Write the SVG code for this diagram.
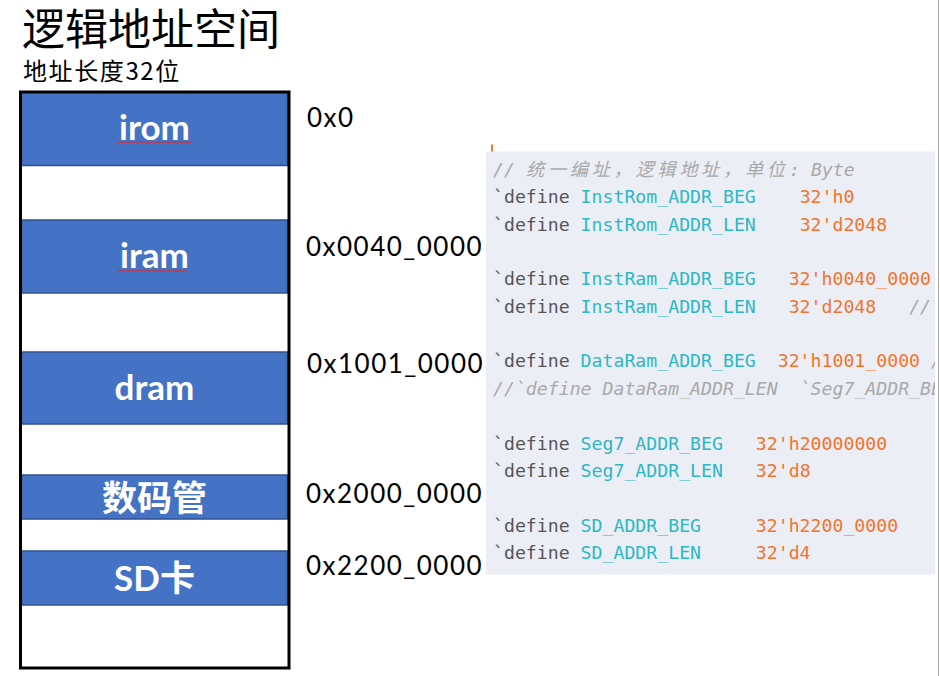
<svg xmlns="http://www.w3.org/2000/svg" width="940" height="676" viewBox="0 0 940 676">
<style>
.title{font-family:"Noto Sans CJK SC",sans-serif;fill:#000}
.band{fill:#4472C4;stroke:#2F528F;stroke-width:1.5}
.lbl{font-family:Lato,"Noto Sans CJK SC",sans-serif;font-weight:bold;fill:#fff;text-anchor:middle;font-size:35px}
.cjk{font-family:"Noto Sans CJK SC",sans-serif;font-weight:bold;font-size:35px}
.addr{font-family:Lato,"Liberation Sans",sans-serif;font-size:26px;fill:#000;letter-spacing:1.5px}
.code{font-family:"DejaVu Sans Mono","Noto Sans CJK SC",monospace;font-size:18.2px;fill:#555;white-space:pre}
.id{fill:#2DB8C5}
.num{fill:#F5732A}
.cm{fill:#A9A9A9;font-style:italic}
.wavy{fill:none;stroke:#E02828;stroke-width:1}
</style>
<defs>
<clipPath id="codeclip"><rect x="486" y="151" width="449" height="424"/></clipPath>
</defs>
<rect width="940" height="676" fill="#fff"/>
<g id="heading">
<text class="title" x="22" y="45" font-size="43">逻辑地址空间</text>
<text class="title" x="23" y="80" font-size="24" letter-spacing="1.6">地址长度32位</text>
</g>
<g id="memory-map">
<g id="irom">
<rect class="band" x="21.5" y="92" width="266" height="73.5"/>
<text class="lbl" x="154.5" y="140">irom</text>
<path class="wavy" d="M118 143 l2 -1.5 l2 1.5 l2 -1.5 l2 1.5 l2 -1.5 l2 1.5 l2 -1.5 l2 1.5 l2 -1.5 l2 1.5 l2 -1.5 l2 1.5 l2 -1.5 l2 1.5 l2 -1.5 l2 1.5 l2 -1.5 l2 1.5 l2 -1.5 l2 1.5 l2 -1.5 l2 1.5 l2 -1.5 l2 1.5 l2 -1.5 l2 1.5 l2 -1.5 l2 1.5 l2 -1.5 l2 1.5 l2 -1.5 l2 1.5 l2 -1.5 l2 1.5 l2 -1.5 l2 1.5 l2 -1.5"/>
</g>
<g id="iram">
<rect class="band" x="21.5" y="220" width="266" height="73"/>
<text class="lbl" x="154.5" y="268">iram</text>
<path class="wavy" d="M118 271.5 l2 -1.5 l2 1.5 l2 -1.5 l2 1.5 l2 -1.5 l2 1.5 l2 -1.5 l2 1.5 l2 -1.5 l2 1.5 l2 -1.5 l2 1.5 l2 -1.5 l2 1.5 l2 -1.5 l2 1.5 l2 -1.5 l2 1.5 l2 -1.5 l2 1.5 l2 -1.5 l2 1.5 l2 -1.5 l2 1.5 l2 -1.5 l2 1.5 l2 -1.5 l2 1.5 l2 -1.5 l2 1.5 l2 -1.5 l2 1.5 l2 -1.5 l2 1.5 l2 -1.5"/>
</g>
<g id="dram">
<rect class="band" x="21.5" y="352" width="266" height="72"/>
<text class="lbl" x="154.5" y="400">dram</text>
</g>
<g id="seg7">
<rect class="band" x="21.5" y="475" width="266" height="44"/>
<text class="lbl cjk" x="154.5" y="511">数码管</text>
</g>
<g id="sd">
<rect class="band" x="21.5" y="551" width="266" height="54"/>
<text class="lbl" x="154.5" y="591">SD<tspan class="cjk">卡</tspan></text>
</g>
<rect id="frame" x="20.5" y="92" width="268.5" height="576" fill="none" stroke="#000" stroke-width="3"/>
</g>
<g id="addresses">
<text class="addr" x="307" y="127">0x0</text>
<text class="addr" x="306" y="256">0x0040_0000</text>
<text class="addr" x="307" y="373">0x1001_0000</text>
<text class="addr" x="306" y="503">0x2000_0000</text>
<text class="addr" x="306" y="575">0x2200_0000</text>
</g>
<g id="code">
<rect x="486" y="151.5" width="449" height="423" fill="#EBEEF5"/>
<rect x="491" y="144.5" width="2" height="7" fill="#F5732A"/>
<g clip-path="url(#codeclip)">
<text class="code cm" y="176"><tspan x="493">// </tspan><tspan x="526" letter-spacing="3.7">统一编址，逻辑地址，单位</tspan><tspan x="789">: Byte</tspan></text>
<text class="code" x="493" y="203.35">`define <tspan class="id">InstRom_ADDR_BEG</tspan>    <tspan class="num">32'h0</tspan></text>
<text class="code" x="493" y="230.7">`define <tspan class="id">InstRom_ADDR_LEN</tspan>    <tspan class="num">32'd2048</tspan></text>
<text class="code" x="493" y="285.4">`define <tspan class="id">InstRam_ADDR_BEG</tspan>   <tspan class="num">32'h0040_0000</tspan></text>
<text class="code" x="493" y="312.75">`define <tspan class="id">InstRam_ADDR_LEN</tspan>   <tspan class="num">32'd2048</tspan>   <tspan class="cm">//</tspan></text>
<text class="code" x="493" y="367.45">`define <tspan class="id">DataRam_ADDR_BEG</tspan>  <tspan class="num">32'h1001_0000</tspan> <tspan class="cm">/</tspan></text>
<text class="code cm" x="493" y="394.8">//`define DataRam_ADDR_LEN  `Seg7_ADDR_BEG</text>
<text class="code" x="493" y="449.5">`define <tspan class="id">Seg7_ADDR_BEG</tspan>   <tspan class="num">32'h20000000</tspan></text>
<text class="code" x="493" y="476.85">`define <tspan class="id">Seg7_ADDR_LEN</tspan>   <tspan class="num">32'd8</tspan></text>
<text class="code" x="493" y="531.55">`define <tspan class="id">SD_ADDR_BEG</tspan>     <tspan class="num">32'h2200_0000</tspan></text>
<text class="code" x="493" y="558.9">`define <tspan class="id">SD_ADDR_LEN</tspan>     <tspan class="num">32'd4</tspan></text>
</g>
</g>
<line x1="938.5" y1="0" x2="938.5" y2="676" stroke="#A6A6A6" stroke-width="1"/>
</svg>
